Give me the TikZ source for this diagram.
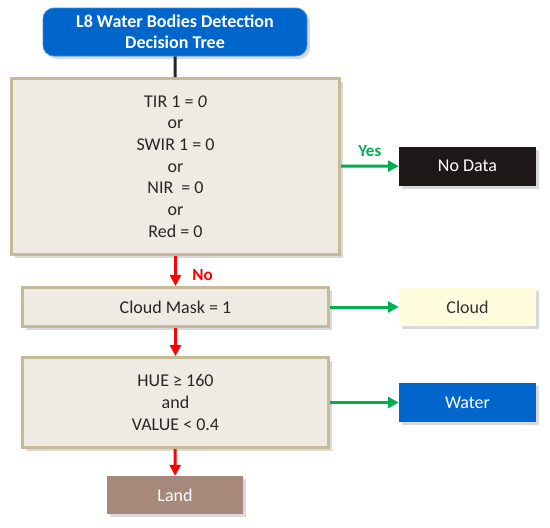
\documentclass[tikz,border=0pt]{standalone}
\usepackage{fontspec}
\setmainfont{Carlito}
\usetikzlibrary{arrows.meta,positioning,shadows}
\definecolor{sky}{RGB}{0,102,204}
\definecolor{skyrim}{RGB}{60,140,220}
\definecolor{parchment}{RGB}{238,236,226}
\definecolor{khaki}{RGB}{198,187,150}
\definecolor{leafgreen}{RGB}{0,176,80}
\definecolor{alarm}{RGB}{255,0,0}
\definecolor{soot}{RGB}{30,24,24}
\definecolor{cream}{RGB}{255,253,222}
\definecolor{clay}{RGB}{166,137,122}
\tikzset{
  >={Triangle[length=11pt,width=11pt]},
  test/.style={draw=khaki,fill=parchment,line width=3pt,minimum width=306pt,
    align=center,font=\fontsize{18}{21.7}\selectfont,text=black!85,
    drop shadow={opacity=0.3,shadow xshift=3pt,shadow yshift=-3pt}},
  leaf/.style={fill=#1,minimum width=137pt,minimum height=39pt,
    font=\fontsize{18}{21}\selectfont,
    drop shadow={opacity=0.3,shadow xshift=3pt,shadow yshift=-3pt}},
  leaf/.default=sky,
  flow/.style={->,line width=3pt,draw=#1},
  flow/.default=leafgreen,
  tag/.style={font=\fontsize{17}{20}\selectfont\bfseries,text=#1},
}

\begin{document}
\begin{tikzpicture}[x=1pt,y=-1pt]
        \useasboundingbox (0,0) rectangle (550,528);
        \node[fill=sky,draw=skyrim,thick,rounded corners=11pt,minimum width=264pt,minimum height=48pt,
          text=white,align=center,font=\fontsize{18}{20.7}\selectfont\bfseries,
          drop shadow={opacity=0.3,shadow xshift=3pt,shadow yshift=-3pt}] (title) at (175,32)
          {L8 Water Bodies Detection\\Decision Tree};
        \node[test,minimum width=328pt,minimum height=176pt] (nodata test) at (175.5,166.5)
          {TIR 1 = \textit{0}\\or\\SWIR 1 = 0\\or\\NIR \ = 0\\or\\Red = 0};
        \node[test,minimum height=39pt] (cloud test) at (175.5,307) {Cloud Mask = 1};
        \node[test,minimum height=90pt] (water test) at (175.5,402.5) {HUE ≥ 160\\and\\VALUE < 0.4};
        \node[leaf=soot,text=white] (nodata) at (467.5,166) {No Data};
        \node[leaf=cream,minimum height=38pt,text=black!80] (cloud) at (467.5,307) {Cloud};
        \node[leaf=sky,text=white] (water) at (467.5,402.5) {Water};
        \node[leaf=clay,minimum width=136pt,minimum height=38pt,text=white] (land) at (175,495) {Land};
        \draw[line width=3pt,black!85] (title) -- (nodata test);
        \draw[flow] (nodata test) -- node[tag=leafgreen,above=5pt] {Yes} (nodata);
        \draw[flow=alarm] (nodata test) -- node[tag=alarm,right=12pt,pos=0.65] {No} (cloud test);
        \draw[flow] (cloud test) -- (cloud);
        \draw[flow=alarm] (cloud test) -- (water test);
        \draw[flow] (water test) -- (water);
        \draw[flow=alarm] (water test) -- (land);
      \end{tikzpicture}
\end{document}
